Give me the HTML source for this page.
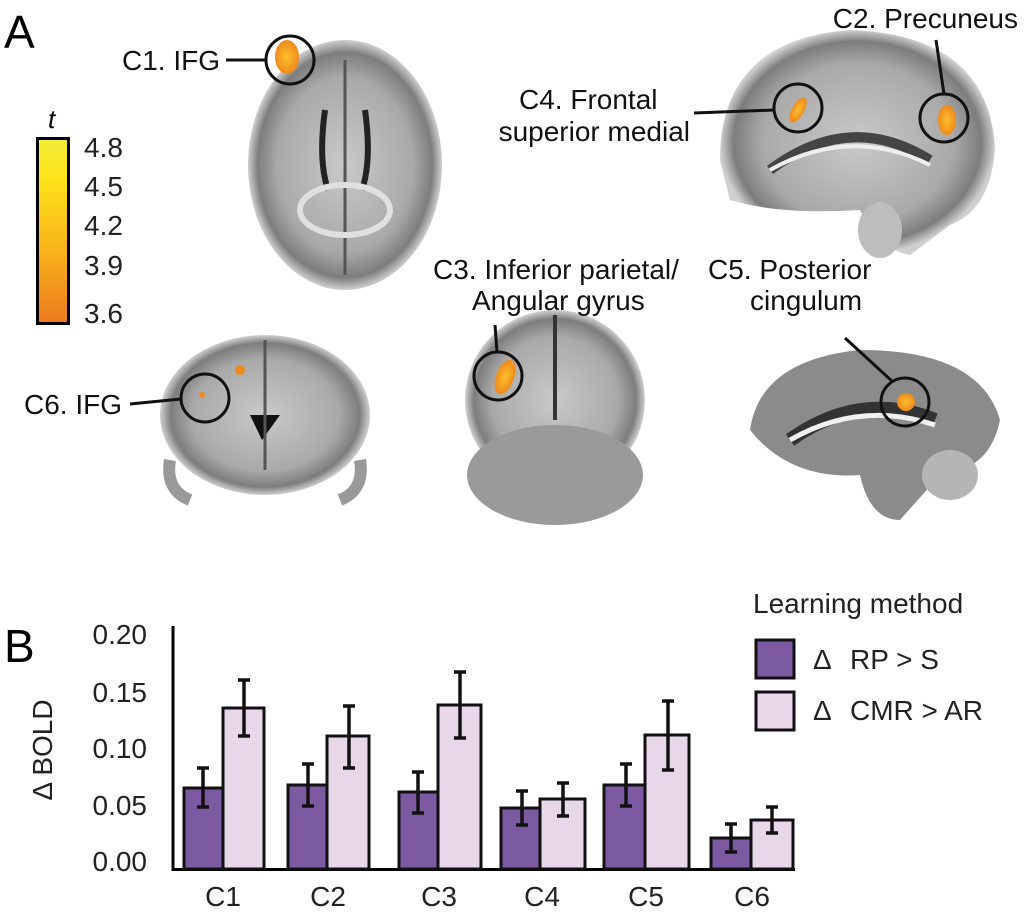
<!DOCTYPE html>
<html><head><meta charset="utf-8"><style>
html,body{margin:0;padding:0;background:#fff;}
svg{display:block;font-family:"Liberation Sans",sans-serif;}
</style></head><body>
<svg width="1024" height="912" viewBox="0 0 1024 912">
<defs>
<linearGradient id="cb" x1="0" y1="0" x2="0" y2="1">
<stop offset="0" stop-color="#f3ec3a"/><stop offset="0.2" stop-color="#fde51b"/><stop offset="0.6" stop-color="#f8b41a"/><stop offset="1" stop-color="#ec7a1e"/></linearGradient>
<radialGradient id="br" cx="0.5" cy="0.5" r="0.5">
<stop offset="0" stop-color="#c9c9c9"/><stop offset="0.7" stop-color="#a9a9a9"/><stop offset="0.9" stop-color="#7d7d7d"/><stop offset="1" stop-color="#cfcfcf"/></radialGradient>
<radialGradient id="hot" cx="0.5" cy="0.5" r="0.5"><stop offset="0" stop-color="#fbc02d"/><stop offset="1" stop-color="#ef8a1c"/></radialGradient>
</defs>
<text x="4" y="48" font-size="46">A</text>
<text x="4" y="662" font-size="46">B</text>
<!-- colorbar -->
<text x="48" y="128" font-size="26" font-style="italic">t</text>
<rect x="37.5" y="138.5" width="31" height="185" fill="url(#cb)" stroke="#000" stroke-width="3"/>
<g font-size="28" fill="#222">
<text x="84" y="157">4.8</text><text x="84" y="196">4.5</text><text x="84" y="235">4.2</text><text x="84" y="275">3.9</text><text x="84" y="323">3.6</text>
</g>
<!-- brains -->
<ellipse cx="345" cy="165" rx="97" ry="125" fill="url(#br)"/>
<path d="M345 60 L345 275" stroke="#555" stroke-width="3"/>
<path d="M325 110 Q318 160 328 190 M365 110 Q372 160 362 190" stroke="#222" stroke-width="6" fill="none"/>
<ellipse cx="345" cy="210" rx="45" ry="25" fill="none" stroke="#e0e0e0" stroke-width="6"/>
<path d="M720 160 Q720 40 850 30 Q990 35 995 150 Q990 210 950 225 L910 255 Q880 250 860 210 Q780 215 730 200 Z" fill="url(#br)"/>
<path d="M770 170 Q850 110 930 160" stroke="#444" stroke-width="10" fill="none"/>
<path d="M770 170 Q850 125 930 165" stroke="#eee" stroke-width="4" fill="none"/>
<ellipse cx="880" cy="230" rx="22" ry="28" fill="#bdbdbd"/>
<ellipse cx="265" cy="415" rx="105" ry="80" fill="url(#br)"/>
<path d="M170 460 Q165 490 190 500 M360 460 Q365 490 340 500" stroke="#999" stroke-width="12" fill="none"/>
<path d="M262 440 L250 415 L280 415 Z" fill="#111"/>
<path d="M265 340 L265 470" stroke="#555" stroke-width="3"/>
<ellipse cx="555" cy="400" rx="90" ry="90" fill="url(#br)"/>
<ellipse cx="555" cy="475" rx="88" ry="50" fill="#9a9a9a"/>
<path d="M555 315 L555 420" stroke="#333" stroke-width="4"/>
<path d="M750 430 Q760 360 860 350 Q980 350 1000 420 Q990 470 940 475 L900 520 Q870 520 860 475 Q790 480 750 430 Z" fill="#8b8b8b"/>
<path d="M790 440 Q860 390 935 420" stroke="#333" stroke-width="14" fill="none"/>
<path d="M790 440 Q860 400 935 425" stroke="#f0f0f0" stroke-width="5" fill="none"/>
<ellipse cx="950" cy="475" rx="28" ry="25" fill="#b5b5b5"/>
<!-- activations -->
<ellipse cx="287" cy="57" rx="12" ry="17" fill="url(#hot)"/>
<ellipse cx="947" cy="120" rx="9" ry="15" fill="url(#hot)"/>
<ellipse cx="798" cy="110" rx="6" ry="14" fill="url(#hot)" transform="rotate(30 798 110)"/>
<ellipse cx="505" cy="377" rx="9" ry="18" fill="url(#hot)" transform="rotate(20 505 377)"/>
<ellipse cx="906" cy="402" rx="9" ry="9" fill="url(#hot)"/>
<ellipse cx="240" cy="370" rx="5" ry="5" fill="#ef8a1c"/>
<ellipse cx="202" cy="395" rx="3" ry="3" fill="#ef8a1c"/>
<!-- circles & labels -->
<g fill="none" stroke="#111" stroke-width="3">
<circle cx="290" cy="60" r="24"/><line x1="226" y1="60" x2="266" y2="60"/>
<circle cx="944" cy="118" r="24"/><line x1="936" y1="40" x2="944" y2="94"/>
<circle cx="798" cy="108" r="24"/><line x1="694" y1="113" x2="774" y2="110"/>
<circle cx="498" cy="376" r="24"/><line x1="495" y1="325" x2="497" y2="352"/>
<circle cx="905" cy="402" r="24"/><line x1="845" y1="338" x2="893" y2="382"/>
<circle cx="205" cy="398" r="24"/><line x1="130" y1="404" x2="181" y2="399"/>
</g>
<g font-size="28" fill="#111">
<text x="220" y="70" text-anchor="end">C1. IFG</text>
<text x="1018" y="28" text-anchor="end">C2. Precuneus</text>
<text x="519" y="109">C4. Frontal</text>
<text x="690" y="141" text-anchor="end">superior medial</text>
<text x="433" y="279">C3. Inferior parietal/</text>
<text x="472" y="310">Angular gyrus</text>
<text x="708" y="279">C5. Posterior</text>
<text x="750" y="310">cingulum</text>
<text x="122" y="414" text-anchor="end">C6. IFG</text>
</g>
<!-- bar chart -->
<g font-size="28" fill="#222" text-anchor="end">
<text x="147" y="644">0.20</text><text x="147" y="702">0.15</text><text x="147" y="758">0.10</text><text x="147" y="815">0.05</text><text x="147" y="871">0.00</text>
</g>
<text transform="translate(52 750) rotate(-90)" font-size="28" text-anchor="middle" fill="#222">Δ BOLD</text>
<line x1="173" y1="626" x2="173" y2="871" stroke="#000" stroke-width="3"/>
<line x1="172" y1="869.5" x2="795" y2="869.5" stroke="#000" stroke-width="3"/>
<g stroke="#111" stroke-width="3">
<rect x="184" y="788" width="39" height="81" fill="#7b5aa2"/><rect x="223" y="708" width="41" height="161" fill="#e8d6e9"/>
<rect x="288" y="785" width="39" height="84" fill="#7b5aa2"/><rect x="327" y="736" width="42" height="133" fill="#e8d6e9"/>
<rect x="399" y="792" width="39" height="77" fill="#7b5aa2"/><rect x="438" y="705" width="43" height="164" fill="#e8d6e9"/>
<rect x="501" y="808" width="39" height="61" fill="#7b5aa2"/><rect x="540" y="799" width="45" height="70" fill="#e8d6e9"/>
<rect x="604" y="785" width="41" height="84" fill="#7b5aa2"/><rect x="645" y="735" width="44" height="134" fill="#e8d6e9"/>
<rect x="711" y="838" width="40" height="31" fill="#7b5aa2"/><rect x="751" y="820" width="42" height="49" fill="#e8d6e9"/>
</g>
<g stroke="#111" stroke-width="3.5" fill="none">
<path d="M203 768V807M197 768H209M197 807H209"/>
<path d="M244 680V736M238 680H250M238 736H250"/>
<path d="M308 764V806M302 764H314M302 806H314"/>
<path d="M349 706V768M343 706H355M343 768H355"/>
<path d="M418 772V813M412 772H424M412 813H424"/>
<path d="M460 672V738M454 672H466M454 738H466"/>
<path d="M522 791V825M516 791H528M516 825H528"/>
<path d="M563 783V816M557 783H569M557 816H569"/>
<path d="M626 764V806M620 764H632M620 806H632"/>
<path d="M668 701V770M662 701H674M662 770H674"/>
<path d="M731 824V852M725 824H737M725 852H737"/>
<path d="M772 807V833M766 807H778M766 833H778"/>
</g>
<g font-size="28" fill="#222" text-anchor="middle">
<text x="223" y="906">C1</text><text x="328" y="906">C2</text><text x="439" y="906">C3</text><text x="542" y="906">C4</text><text x="646" y="906">C5</text><text x="752" y="906">C6</text>
</g>
<text x="753" y="613" font-size="28" fill="#222">Learning method</text>
<rect x="756" y="640" width="38" height="38" fill="#7b5aa2" stroke="#111" stroke-width="3"/>
<rect x="756" y="692" width="38" height="38" fill="#e8d6e9" stroke="#111" stroke-width="3"/>
<g font-size="28" fill="#222">
<text x="813" y="669">Δ</text><text x="850" y="669">RP &gt; S</text>
<text x="813" y="720">Δ</text><text x="850" y="720">CMR &gt; AR</text>
</g>
</svg>
</body></html>
